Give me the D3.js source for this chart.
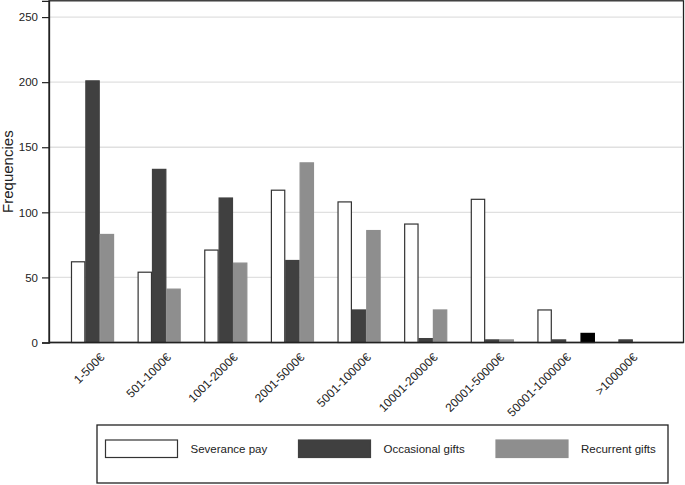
<!DOCTYPE html>
<html>
<head>
<meta charset="utf-8">
<script src="https://cdn.jsdelivr.net/npm/d3@7"></script>
<style>
  body { margin: 0; background: #fff; }
  svg { display: block; font-family: "Liberation Sans", Arial, Helvetica, sans-serif; }
</style>
</head>
<body>
<svg id="chart" width="685" height="485"></svg>
<script>
const categories = ["1-500€", "501-1000€", "1001-2000€", "2001-5000€", "5001-10000€",
  "10001-20000€", "20001-50000€", "50001-100000€", ">100000€"];
const severancePay    = [62, 54, 71, 117, 108, 91, 110, 25, 0];
const occasionalGifts = [201, 133, 111, 63, 25, 3, 2, 2, 2];
const recurrentGifts  = [83, 41, 61, 138, 86, 25, 2, 0, 0];
const otherSeries     = [0, 0, 0, 0, 0, 0, 0, 7, 0];
const seriesNames = ["Severance pay", "Occasional gifts", "Recurrent gifts", "Other"];
const yTicks = [0, 50, 100, 150, 200, 250];

const seriesData = [severancePay, occasionalGifts, recurrentGifts, otherSeries];
const fills   = ["#ffffff", "#404040", "#8e8e8e", "#000000"];
const strokes = ["#333333", "#404040", "#8e8e8e", "#000000"];

const svg = d3.select("#chart");
const mLeft = 49, mRight = 683.5, mTop = 0.8, mBottom = 342.5;

const x0 = d3.scaleBand().domain(categories).range([mLeft, mRight])
  .paddingInner(0.138).paddingOuter(0.33);
const x1 = d3.scaleBand().domain(d3.range(4)).range([0, x0.bandwidth()]);
const y = d3.scaleLinear().domain([0, 262.5]).range([mBottom, mTop]);

// frame
svg.append("rect").attr("x", mLeft).attr("y", mTop).attr("width", mRight - mLeft)
  .attr("height", mBottom - mTop).attr("fill", "none").attr("stroke", "#222").attr("stroke-width", 1.3);

// gridlines
svg.append("g").selectAll("line").data(yTicks.filter(d => d > 0)).join("line")
  .attr("x1", mLeft + 1).attr("x2", mRight - 1)
  .attr("y1", d => y(d)).attr("y2", d => y(d))
  .attr("stroke", "#e0e0e0").attr("stroke-width", 1.3);

// bars
const flat = [];
categories.forEach((c, i) => seriesData.forEach((s, k) => {
  if (s[i] > 0) flat.push({ c, k, v: s[i] });
}));
svg.append("g").selectAll("rect").data(flat).join("rect")
  .attr("x", d => x0(d.c) + x1(d.k) + 0.5)
  .attr("y", d => y(d.v))
  .attr("width", x1.bandwidth() - 1)
  .attr("height", d => mBottom - y(d.v))
  .attr("fill", d => fills[d.k])
  .attr("stroke", d => strokes[d.k])
  .attr("stroke-width", 1.2);

// y axis
const yAxis = d3.axisLeft(y).tickValues(yTicks).tickSize(7).tickPadding(4);
const gy = svg.append("g").attr("transform", `translate(${mLeft},0)`).call(yAxis);
gy.select(".domain").attr("stroke", "#222").attr("stroke-width", 1.3);
gy.selectAll(".tick line").attr("stroke", "#222").attr("stroke-width", 1.2);
gy.selectAll("text").attr("font-size", 11.5).attr("fill", "#222")
  .attr("font-family", "Liberation Sans, Arial, sans-serif");

// x axis baseline
svg.append("line").attr("x1", mLeft).attr("x2", mRight).attr("y1", mBottom).attr("y2", mBottom)
  .attr("stroke", "#222").attr("stroke-width", 1.3);

// x labels
const xAxis = d3.axisBottom(x0).tickSize(0).tickPadding(0);
const gx = svg.append("g").attr("transform", `translate(0,${mBottom})`).call(xAxis);
gx.select(".domain").remove();
gx.selectAll("text")
  .attr("font-size", 12).attr("fill", "#222")
  .attr("font-family", "Liberation Sans, Arial, sans-serif")
  .attr("text-anchor", "end").attr("dy", null).attr("y", 0)
  .attr("transform", "translate(5.5,15.5) rotate(-45)");

// y title
svg.append("text").attr("transform", `translate(12.5,${(mTop + mBottom) / 2}) rotate(-90)`)
  .attr("text-anchor", "middle").attr("font-size", 15).attr("fill", "#222")
  .text("Frequencies");

// legend
const lg = svg.append("g");
lg.append("rect").attr("x", 97).attr("y", 425).attr("width", 571).attr("height", 58)
  .attr("fill", "#fff").attr("stroke", "#222").attr("stroke-width", 1.3);
const legX = [105.5, 298.5, 496];
seriesNames.slice(0, 3).forEach((name, k) => {
  lg.append("rect").attr("x", legX[k]).attr("y", 440).attr("width", 72).attr("height", 17.5)
    .attr("fill", fills[k]).attr("stroke", k === 0 ? "#333" : fills[k]).attr("stroke-width", 1.2);
  lg.append("text").attr("x", legX[k] + 85).attr("y", 453).attr("font-size", 11.5)
    .attr("fill", "#222").text(name);
});
</script>
</body>
</html>
